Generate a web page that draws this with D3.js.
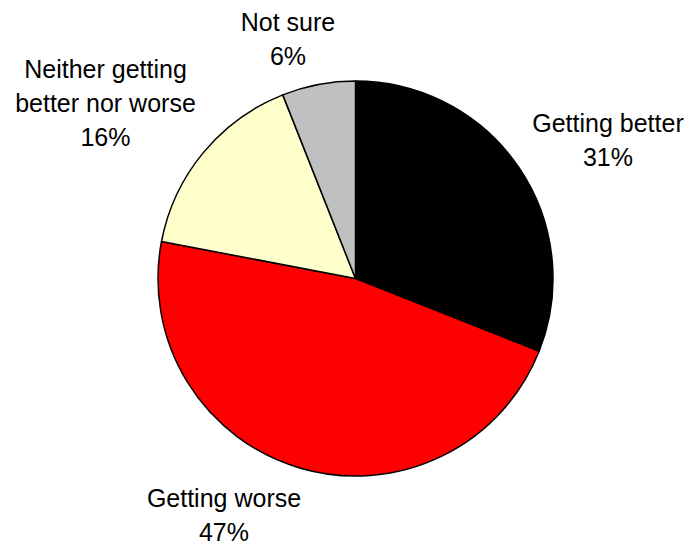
<!DOCTYPE html>
<html>
<head>
<meta charset="utf-8">
<script src="https://cdn.jsdelivr.net/npm/d3@7"></script>
<style>
  html, body { margin: 0; padding: 0; background: #fff; }
  svg { display: block; }
  text { font-family: "Liberation Sans", Arial, sans-serif; fill: #000; }
</style>
</head>
<body>
<div id="chart"></div>
<script>
const categories = ["Getting better", "Getting worse", "Neither getting better nor worse", "Not sure"];
const values = [31, 47, 16, 6];
const colors = ["#000000", "#ff0000", "#ffffcc", "#c0c0c0"];
const labelLines = [
  ["Getting better", "31%"],
  ["Getting worse", "47%"],
  ["Neither getting", "better nor worse", "16%"],
  ["Not sure", "6%"]
];

const W = 689, H = 546;
const cx = 355.5, cy = 278.5, R = 197.5;
// label anchors (center x, first baseline y) - layout only
const labelAnchors = [[608, 132], [224, 507], [105.5, 78], [288, 31]];
const lineH = 34;

const svg = d3.select("#chart").append("svg").attr("width", W).attr("height", H);
const g = svg.append("g").attr("transform", `translate(${cx},${cy})`);

const pie = d3.pie().sort(null).value(d => d)(values);
const arc = d3.arc().innerRadius(0).outerRadius(R);

g.selectAll("path").data(pie).join("path")
  .attr("d", arc)
  .attr("fill", (d, i) => colors[i])
  .attr("stroke", "#000")
  .attr("stroke-width", 1.5)
  .attr("stroke-linejoin", "round");

const lg = svg.append("g");
labelLines.forEach((lines, i) => {
  const t = lg.append("text")
    .attr("text-anchor", "middle")
    .attr("font-size", 25);
  lines.forEach((ln, j) => {
    t.append("tspan")
      .attr("x", labelAnchors[i][0])
      .attr("y", labelAnchors[i][1] + j * lineH)
      .text(ln);
  });
});
</script>
</body>
</html>
